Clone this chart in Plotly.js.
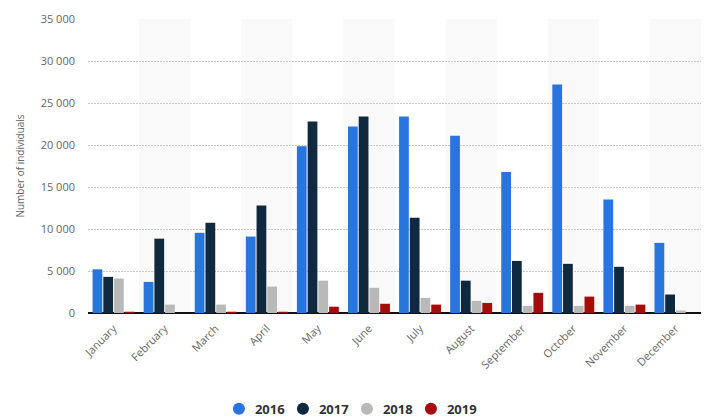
<!DOCTYPE html>
<html>
<head>
<meta charset="utf-8">
<script src="https://cdn.plot.ly/plotly-3.0.1.min.js"></script>
<style>html,body{margin:0;padding:0;background:#fff;}#chart{width:710px;height:418px;}</style>
</head>
<body>
<div id="chart"></div>
<script>
const months = ["January","February","March","April","May","June","July","August","September","October","November","December"];
const seriesNames = ["2016","2017","2018","2019"];
const v2016 = [5200, 3700, 9550, 9100, 19850, 22200, 23400, 21100, 16800, 27200, 13500, 8350];
const v2017 = [4300, 8850, 10750, 12800, 22800, 23400, 11350, 3850, 6200, 5850, 5500, 2200];
const v2018 = [4100, 1000, 1000, 3150, 3850, 3000, 1800, 1450, 850, 850, 850, 300];
const v2019 = [150, 0, 150, 150, 750, 1100, 1000, 1200, 2400, 1950, 1000, 0];
const colors = ["#2876dd", "#0f2a3f", "#b9b9b9", "#a50c0c"];
const yTicks = [0, 5000, 10000, 15000, 20000, 25000, 30000, 35000];

const allValues = [v2016, v2017, v2018, v2019];
const traces = allValues.map((vals, i) => ({
  type: "bar",
  name: seriesNames[i],
  x: months,
  y: vals,
  marker: {color: colors[i]},
  hoverinfo: "x+y+name"
}));

const shapes = [];
months.forEach((m, i) => {
  if (i % 2 === 1) {
    shapes.push({type: "rect", xref: "x", yref: "paper", x0: i - 0.5, x1: i + 0.5, y0: 0, y1: 1,
      fillcolor: "#f9f9f9", line: {width: 0}, layer: "below"});
  }
});

const layout = {
  width: 710, height: 418,
  margin: {l: 88, r: 9, t: 19, b: 105},
  paper_bgcolor: "#fff", plot_bgcolor: "rgba(0,0,0,0)",
  font: {family: "Open Sans, Arial, sans-serif", color: "#666", size: 11},
  separators: ", ",
  barmode: "group",
  bargap: 0.16,
  bargroupgap: 0.09,
  showlegend: true,
  legend: {orientation: "h", xref: "container", yref: "container", x: 0.483, xanchor: "center",
    y: 0.022, yanchor: "middle", entrywidth: 19, entrywidthmode: "pixels",
    font: {size: 13, color: "#333", family: "Open Sans, Arial, sans-serif", weight: 700},
    itemsizing: "constant", traceorder: "normal"},
  xaxis: {type: "category", tickangle: -45, showgrid: false, zeroline: false, showline: false,
    automargin: false, ticks: "", ticklabelstandoff: 6, tickfont: {size: 11, color: "#666"}, range: [-0.5, 11.5]},
  yaxis: {range: [0, 35000], tickvals: yTicks, tickformat: ",d", showgrid: true, automargin: false,
    gridcolor: "#c8c8c8", griddash: "2px,1px", gridwidth: 1, zeroline: true, zerolinecolor: "#111",
    zerolinewidth: 2, showline: false, ticks: "", ticklen: 0, ticklabelstandoff: 12,
    tickfont: {size: 11, color: "#666"},
    title: {text: "Number of individuals", font: {size: 10, color: "#666"}, standoff: 14}},
  shapes: shapes
};

Plotly.newPlot("chart", traces, layout, {displayModeBar: false, staticPlot: true}).then(() => {
  document.querySelectorAll(".legend [clip-path]").forEach(el => el.removeAttribute("clip-path"));
  document.querySelectorAll(".legendpoints path").forEach(p => {
    p.setAttribute("d", "M6,0A6,6 0 1,1 -6,0A6,6 0 1,1 6,0Z");
    p.setAttribute("transform", "translate(24,0)");
  });
});
</script>
</body>
</html>
